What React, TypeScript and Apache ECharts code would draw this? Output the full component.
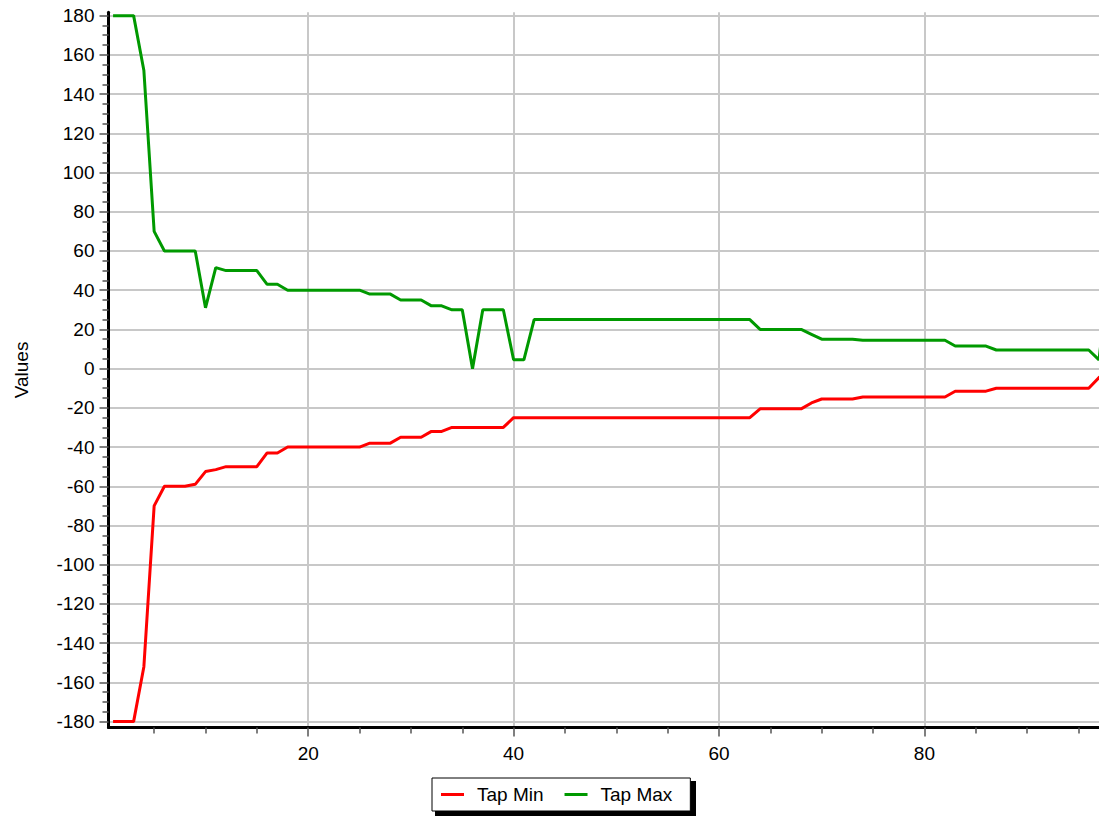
import React, { useEffect, useRef } from "react";
import * as echarts from "echarts";

const seriesNames = ["Tap Min", "Tap Max"];

const tapMin = [
  -180, -180, -180, -152, -70, -60, -60, -60, -59, -52.5,
  -51.5, -50, -50, -50, -50, -43, -43, -40, -40, -40,
  -40, -40, -40, -40, -40, -38, -38, -38, -35, -35,
  -35, -32, -32, -30, -30, -30, -30, -30, -30, -25,
  -25, -25, -25, -25, -25, -25, -25, -25, -25, -25,
  -25, -25, -25, -25, -25, -25, -25, -25, -25, -25,
  -25, -25, -25, -20.5, -20.5, -20.5, -20.5, -20.5, -17.5, -15.5,
  -15.5, -15.5, -15.5, -14.5, -14.5, -14.5, -14.5, -14.5, -14.5, -14.5,
  -14.5, -14.5, -11.5, -11.5, -11.5, -11.5, -10, -10, -10, -10,
  -10, -10, -10, -10, -10, -10, -4.5, -2,
];

const tapMax = [
  180, 180, 180, 152, 70, 60, 60, 60, 60, 31,
  51.5, 50, 50, 50, 50, 43, 43, 40, 40, 40,
  40, 40, 40, 40, 40, 38, 38, 38, 35, 35,
  35, 32, 32, 30, 30, 0, 30, 30, 30, 4.5,
  4.5, 25, 25, 25, 25, 25, 25, 25, 25, 25,
  25, 25, 25, 25, 25, 25, 25, 25, 25, 25,
  25, 25, 25, 20, 20, 20, 20, 20, 17.5, 15,
  15, 15, 15, 14.5, 14.5, 14.5, 14.5, 14.5, 14.5, 14.5,
  14.5, 14.5, 11.5, 11.5, 11.5, 11.5, 9.5, 9.5, 9.5, 9.5,
  9.5, 9.5, 9.5, 9.5, 9.5, 9.5, 4.5, 50,
];

const xTickLabels = [20, 40, 60, 80];
const yTickLabels = [
  -180, -160, -140, -120, -100, -80, -60, -40, -20, 0,
  20, 40, 60, 80, 100, 120, 140, 160, 180,
];

const FONT = "'Liberation Sans', Arial, Helvetica, sans-serif";

export default function App() {
  const ref = useRef<HTMLDivElement>(null);

  useEffect(() => {
    if (!ref.current) return;
    const chart = echarts.init(ref.current, undefined, { renderer: "svg" });
    const toPairs = (arr: number[]) => arr.map((v, i) => [i + 1, v]);

    chart.setOption({
      animation: false,
      backgroundColor: "#ffffff",
      grid: {
        left: 108.5,
        right: 0,
        top: 12.3,
        bottom: 88.5,
        containLabel: false,
        outerBoundsMode: "none",
      },
      graphic: [
        {
          type: "rect",
          z: 1,
          silent: true,
          shape: { x: 435, y: 781, width: 261, height: 40 },
          style: { fill: "#000000" },
        },
      ],
      legend: {
        data: seriesNames,
        left: 432,
        top: 778,
        orient: "horizontal",
        icon: "rect",
        itemWidth: 23,
        itemHeight: 3,
        itemGap: 21,
        padding: [7, 18, 7, 9],
        backgroundColor: "#ffffff",
        borderColor: "#000000",
        borderWidth: 1,
        borderRadius: 0,
        textStyle: {
          fontFamily: FONT,
          fontSize: 19,
          color: "#000000",
          padding: [0, 0, 0, 8],
        },
        z: 10,
      },
      xAxis: {
        type: "value",
        min: 0.555,
        max: 97,
        splitNumber: 5,
        axisLine: { show: true, onZero: false, lineStyle: { color: "#000000", width: 3 } },
        axisTick: {
          show: true,
          length: 9,
          customValues: xTickLabels,
          lineStyle: { color: "#555555", width: 1.5 },
        },
        minorTick: {
          show: true,
          splitNumber: 4,
          length: 6,
          lineStyle: { color: "#555555", width: 1.5 },
        },
        axisLabel: {
          customValues: xTickLabels,
          showMinLabel: true,
          showMaxLabel: true,
          margin: 16,
          fontFamily: FONT,
          fontSize: 19,
          color: "#000000",
        },
        splitLine: { show: true, lineStyle: { color: "#c8c8c8", width: 2 } },
      },
      yAxis: {
        type: "value",
        min: -183,
        max: 181.7,
        splitNumber: 18,
        name: "Values",
        nameLocation: "middle",
        nameGap: 78,
        nameTextStyle: { fontFamily: FONT, fontSize: 19, color: "#000000" },
        axisLine: { show: true, onZero: false, lineStyle: { color: "#000000", width: 3 } },
        axisTick: {
          show: true,
          length: 9,
          customValues: yTickLabels,
          lineStyle: { color: "#555555", width: 1.5 },
        },
        minorTick: {
          show: true,
          splitNumber: 4,
          length: 6,
          lineStyle: { color: "#555555", width: 1.5 },
        },
        axisLabel: {
          customValues: yTickLabels,
          showMinLabel: true,
          showMaxLabel: true,
          margin: 14,
          fontFamily: FONT,
          fontSize: 19,
          color: "#000000",
        },
        splitLine: { show: true, lineStyle: { color: "#c8c8c8", width: 2 } },
      },
      series: [
        {
          name: seriesNames[0],
          type: "line",
          data: toPairs(tapMin),
          showSymbol: false,
          symbol: "none",
          lineStyle: { color: "#ff0000", width: 3 },
          itemStyle: { color: "#ff0000" },
          z: 3,
        },
        {
          name: seriesNames[1],
          type: "line",
          data: toPairs(tapMax),
          showSymbol: false,
          symbol: "none",
          lineStyle: { color: "#009900", width: 3 },
          itemStyle: { color: "#009900" },
          z: 3,
        },
      ],
    });

    return () => chart.dispose();
  }, []);

  return (
    <div
      ref={ref}
      style={{ position: "fixed", left: 0, top: 0, width: 1099, height: 816, background: "#fff" }}
    />
  );
}
